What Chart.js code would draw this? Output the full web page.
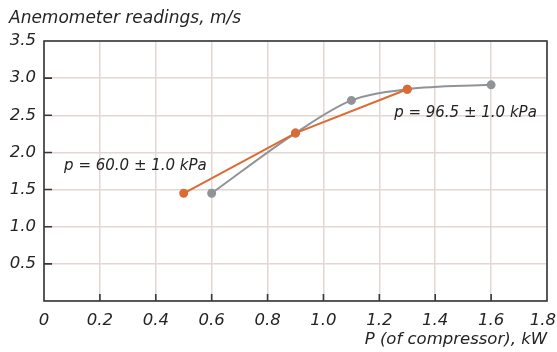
<!DOCTYPE html>
<html>
<head>
<meta charset="utf-8">
<script src="https://cdn.jsdelivr.net/npm/chart.js@4/dist/chart.umd.min.js"></script>
<style>
html,body{margin:0;padding:0;background:#fff;}
#wrap{width:557px;height:352px;position:relative;}
</style>
</head>
<body>
<div id="wrap"><canvas id="c" width="557" height="352"></canvas></div>
<script>
// ---- data ----
const seriesLowX = [0.5, 0.9, 1.3];
const seriesLowY = [1.45, 2.26, 2.85];
const seriesHighX = [0.6, 0.9, 1.1, 1.3, 1.6];
const seriesHighY = [1.45, 2.26, 2.70, 2.85, 2.91];
const seriesLowName = 'p = 60.0 ± 1.0 kPa';
const seriesHighName = 'p = 96.5 ± 1.0 kPa';
const yTitle = 'Anemometer readings, m/s';
const xTitle = 'P (of compressor), kW';
const xMin = 0, xMax = 1.8, xStep = 0.2;
const yMin = 0, yMax = 3.5, yStep = 0.5;
// annotation anchors in data units
const noteLow = {x: 0.072, y: 1.82};
const noteHigh = {x: 1.253, y: 2.53};

const FONT = 'DejaVu Sans';
const TXT = '#242424';
const ORANGE = '#dd6a32';
const GREY = '#909398';

const toPts = (xs, ys) => xs.map((x, i) => ({x: x, y: ys[i]}));

const frame = {
  id: 'frame',
  afterDatasetsDraw(chart) {
    const {ctx, chartArea: a, scales} = chart;
    ctx.save();
    ctx.strokeStyle = '#383838';
    ctx.lineWidth = 1.6;
    // inward ticks
    ctx.beginPath();
    scales.x.ticks.forEach(t => {
      if (t.value <= xMin || t.value >= xMax) return;
      const px = scales.x.getPixelForValue(t.value);
      ctx.moveTo(px, a.bottom); ctx.lineTo(px, a.bottom - 7);
    });
    scales.y.ticks.forEach(t => {
      if (t.value <= yMin || t.value >= yMax) return;
      const py = scales.y.getPixelForValue(t.value);
      ctx.moveTo(a.left, py); ctx.lineTo(a.left + 8, py);
    });
    ctx.stroke();
    ctx.strokeRect(a.left, a.top, a.right - a.left, a.bottom - a.top);
    // annotations
    ctx.fillStyle = TXT;
    ctx.font = 'italic 15px "' + FONT + '"';
    ctx.textAlign = 'left';
    ctx.textBaseline = 'middle';
    ctx.fillText(seriesLowName, scales.x.getPixelForValue(noteLow.x), scales.y.getPixelForValue(noteLow.y));
    ctx.fillText(seriesHighName, scales.x.getPixelForValue(noteHigh.x), scales.y.getPixelForValue(noteHigh.y));
    ctx.restore();
  }
};

new Chart(document.getElementById('c'), {
  type: 'line',
  data: {
    datasets: [
      {
        label: seriesHighName,
        data: toPts(seriesHighX, seriesHighY),
        borderColor: GREY, backgroundColor: GREY,
        borderWidth: 2, pointRadius: 3.5, pointHoverRadius: 3.5,
        cubicInterpolationMode: 'monotone', fill: false, order: 2
      },
      {
        label: seriesLowName,
        data: toPts(seriesLowX, seriesLowY),
        borderColor: ORANGE, backgroundColor: ORANGE,
        borderWidth: 2, pointRadius: 3.5, pointHoverRadius: 3.5,
        tension: 0, fill: false, order: 1
      }
    ]
  },
  options: {
    responsive: false,
    animation: false,
    devicePixelRatio: 1,
    layout: {padding: {left: 9, right: 10, top: 0, bottom: 0}},
    plugins: {
      legend: {display: false},
      tooltip: {enabled: false},
      title: {
        display: true, text: yTitle, align: 'start', color: TXT,
        font: {family: FONT, size: 17, style: 'italic', weight: 'normal', lineHeight: 1.2},
        padding: {top: 8.5, bottom: 12.1}
      }
    },
    scales: {
      x: {
        type: 'linear', min: xMin, max: xMax,
        afterFit(s) { s.height = 51; s.paddingLeft = 0; s.paddingRight = 0; },
        ticks: {
          stepSize: xStep, padding: 10, color: TXT, maxRotation: 0, autoSkip: false,
          font: {family: FONT, size: 16.5, style: 'italic'},
          callback: v => {
            if (Math.abs(v) < 1e-9) return '0';
            const s = v.toFixed(1);
            // keep the last label inside the canvas, as in the reference
            return Math.abs(v - xMax) < 1e-9 ? s + '\u2002' : s;
          }
        },
        grid: {color: '#e2d8d3', lineWidth: 1.5, drawTicks: false},
        border: {display: false},
        title: {
          display: true, text: xTitle, align: 'end', color: TXT,
          font: {family: FONT, size: 16.5, style: 'italic', lineHeight: 1.2},
          padding: {top: 0, bottom: 2}
        }
      },
      y: {
        type: 'linear', min: yMin, max: yMax,
        afterFit(s) { s.width = 35; s.paddingTop = 0; s.paddingBottom = 0; },
        ticks: {
          stepSize: yStep, padding: 8, color: TXT, autoSkip: false,
          font: {family: FONT, size: 16.5, style: 'italic'},
          callback: v => (Math.abs(v) < 1e-9 ? '' : v.toFixed(1))
        },
        grid: {color: '#e2d8d3', lineWidth: 1.5, drawTicks: false},
        border: {display: false}
      }
    }
  },
  plugins: [frame]
});
</script>
</body>
</html>
